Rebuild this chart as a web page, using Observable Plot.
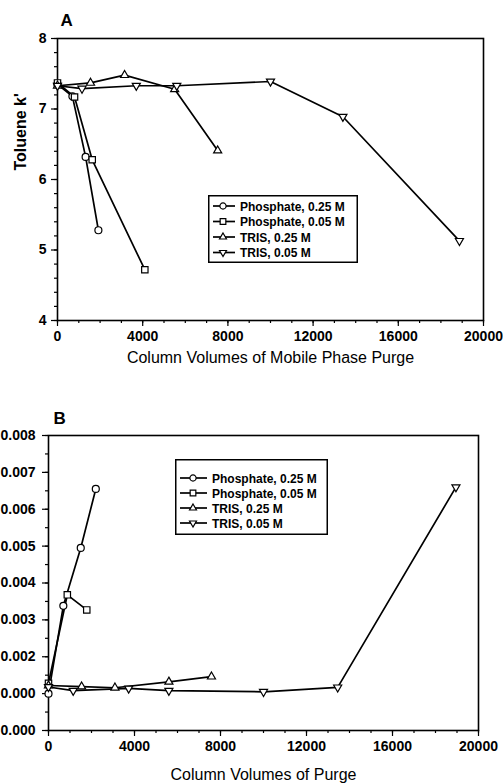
<!DOCTYPE html>
<html><head><meta charset="utf-8">
<script src="https://cdn.jsdelivr.net/npm/d3@7"></script>
<script src="https://cdn.jsdelivr.net/npm/@observablehq/plot@0.6"></script>
<style>
body{margin:0;background:#fff;}
#wrap{position:relative;width:503px;height:783px;overflow:hidden;background:#fff;font-family:"Liberation Sans",Arial,sans-serif;}
#wrap > svg{position:absolute;left:0;}
</style></head><body><div id="wrap"></div>
<script>
// ---------- data ----------
const seriesLabels = ["Phosphate, 0.25 M", "Phosphate, 0.05 M", "TRIS, 0.25 M", "TRIS, 0.05 M"];

// Panel A: Toluene k'
const aPhos25X = [0, 700, 1320, 1920];
const aPhos25Y = [7.35, 7.18, 6.32, 5.28];
const aPhos05X = [0, 800, 1630, 4100];
const aPhos05Y = [7.37, 7.17, 6.28, 4.72];
const aTris25X = [0, 1550, 3150, 5500, 7520];
const aTris25Y = [7.33, 7.37, 7.48, 7.28, 6.41];
const aTris05X = [0, 1150, 3700, 5600, 10000, 13400, 18870];
const aTris05Y = [7.33, 7.29, 7.33, 7.33, 7.39, 6.89, 5.13];

// Panel B
const bPhos25X = [0, 690, 1500, 2200];
const bPhos25Y = [0.00100, 0.00338, 0.00495, 0.00655];
const bPhos05X = [0, 875, 1780];
const bPhos05Y = [0.00128, 0.00368, 0.00327];
const bTris25X = [0, 1540, 3090, 5600, 7580];
const bTris25Y = [0.00122, 0.00119, 0.00116, 0.00132, 0.00146];
const bTris05X = [0, 1150, 3730, 5600, 10000, 13450, 18950];
const bTris05Y = [0.00118, 0.00108, 0.00114, 0.00108, 0.00105, 0.00117, 0.00660];

// ticks
const xTicks = [0, 4000, 8000, 12000, 16000, 20000];
const aYTicks = [4, 5, 6, 7, 8];
const bYTicks = [0, 0.001, 0.002, 0.003, 0.004, 0.005, 0.006, 0.007, 0.008];
const bYTickLabels = ["0.000", "0.000", "0.002", "0.003", "0.004", "0.005", "0.006", "0.007", "0.008"];

// ---------- helpers ----------
const downTriangle = {
  draw(ctx, size) {
    const s3 = Math.sqrt(3);
    const y = Math.sqrt(size / (s3 * 3));
    ctx.moveTo(0, 2 * y);
    ctx.lineTo(-s3 * y, -y);
    ctx.lineTo(s3 * y, -y);
    ctx.closePath();
  }
};
const symbols = [d3.symbolCircle, d3.symbolSquare, d3.symbolTriangle, downTriangle];
const radii = [3.5, 3.6, 3.0, 3.0];
const rows = (xs, ys) => xs.map((x, i) => ({x, y: ys[i]}));
const FONT = "Liberation Sans, Arial, Helvetica, sans-serif";

function seriesMarks(list) {
  const lines = list.map(d => Plot.line(d, {x: "x", y: "y", stroke: "black", strokeWidth: 1.7}));
  const dots = list.map((d, i) => Plot.dot(d, {x: "x", y: "y", symbol: symbols[i], r: radii[i], fill: "white", stroke: "black", strokeWidth: 1.2}));
  return [...lines, ...dots];
}

const wrap = document.getElementById("wrap");

// ---------- Panel A ----------
const aData = [rows(aPhos25X, aPhos25Y), rows(aPhos05X, aPhos05Y), rows(aTris25X, aTris25Y), rows(aTris05X, aTris05Y)];
const plotA = Plot.plot({
  width: 503, height: 375,
  marginTop: 38, marginBottom: 55, marginLeft: 57, marginRight: 20,
  style: {fontFamily: FONT, fontSize: "14px", fontWeight: "bold", color: "black", background: "white", overflow: "visible"},
  x: {domain: [0, 20000], axis: null},
  y: {domain: [4, 8], axis: null},
  marks: [
    Plot.axisX({ticks: d3.range(0, 20001, 1000), tickSize: 3, tickFormat: () => "", label: null, strokeWidth: 1.2}),
    Plot.axisX({ticks: xTicks, tickSize: 6, tickPadding: 5, tickFormat: d => String(d), label: null, strokeWidth: 1.2}),
    Plot.axisY({ticks: d3.range(4, 8.001, 0.2), tickSize: 3, tickFormat: () => "", label: null, strokeWidth: 1.2}),
    Plot.axisY({ticks: aYTicks, tickSize: 6, tickPadding: 5, tickFormat: d => String(d), label: null, strokeWidth: 1.2}),
    Plot.frame({stroke: "black", strokeWidth: 1.6}),
    ...seriesMarks(aData),
    Plot.text(["A"], {frameAnchor: "top-left", text: d => d, dx: 3, dy: -13, textAnchor: "start", lineAnchor: "bottom", fontSize: 17, fontWeight: "bold"}),
    Plot.text(["Toluene k'"], {frameAnchor: "left", text: d => d, rotate: -90, dx: -37, dy: -9, fontSize: 16, fontWeight: "bold"}),
    Plot.text(["Column Volumes of Mobile Phase Purge"], {frameAnchor: "bottom", text: d => d, dy: 42, lineAnchor: "bottom", fontSize: 16, fontWeight: "normal"})
  ]
});
plotA.style.top = "0px";
wrap.appendChild(plotA);

// ---------- Panel B ----------
const bData = [rows(bPhos25X, bPhos25Y), rows(bPhos05X, bPhos05Y), rows(bTris25X, bTris25Y), rows(bTris05X, bTris05Y)];
const plotB = Plot.plot({
  width: 503, height: 393,
  marginTop: 45, marginBottom: 53, marginLeft: 48, marginRight: 25,
  style: {fontFamily: FONT, fontSize: "14px", fontWeight: "bold", color: "black", background: "white", overflow: "visible"},
  x: {domain: [0, 20000], axis: null},
  y: {domain: [0, 0.008], axis: null},
  marks: [
    Plot.axisX({ticks: d3.range(0, 20001, 1000), tickSize: 3, tickFormat: () => "", label: null, strokeWidth: 1.2}),
    Plot.axisX({ticks: xTicks, tickSize: 6, tickPadding: 5, tickFormat: d => String(d), label: null, strokeWidth: 1.2}),
    Plot.axisY({ticks: d3.range(0, 0.00801, 0.0005), tickSize: 3, tickFormat: () => "", label: null, strokeWidth: 1.2}),
    Plot.axisY({ticks: bYTicks, tickSize: 6, tickPadding: 7, tickFormat: d => bYTickLabels[bYTicks.indexOf(d)], label: null, strokeWidth: 1.2}),
    Plot.frame({stroke: "black", strokeWidth: 1.6}),
    ...seriesMarks(bData),
    Plot.text(["B"], {frameAnchor: "top-left", text: d => d, dx: 5, dy: -12, textAnchor: "start", lineAnchor: "bottom", fontSize: 17, fontWeight: "bold"}),
    Plot.text(["Column Volumes of Purge"], {frameAnchor: "bottom", text: d => d, dy: 49, lineAnchor: "bottom", fontSize: 16, fontWeight: "normal"})
  ]
});
plotB.style.top = "390px";
wrap.appendChild(plotB);

// ---------- Legends ----------
function legend(left, top, w, h, row0, gap, x1, x2, xm, xt) {
  const svg = d3.select(wrap).append("svg")
    .attr("width", w).attr("height", h)
    .style("position", "absolute").style("left", left + "px").style("top", top + "px");
  svg.append("rect").attr("x", 0.75).attr("y", 0.75).attr("width", w - 1.5).attr("height", h - 1.5)
    .attr("fill", "white").attr("stroke", "black").attr("stroke-width", 1.5);
  seriesLabels.forEach((lab, i) => {
    const y = row0 + gap * i;
    svg.append("line").attr("x1", x1).attr("x2", x2).attr("y1", y).attr("y2", y)
      .attr("stroke", "black").attr("stroke-width", 1.7);
    svg.append("path").attr("d", d3.symbol(symbols[i], Math.PI * (radii[i] - 0.4) * (radii[i] - 0.4))())
      .attr("transform", `translate(${xm},${y})`)
      .attr("fill", "white").attr("stroke", "black").attr("stroke-width", 1.2);
    svg.append("text").attr("x", xt).attr("y", y + 4.5).text(lab)
      .attr("font-family", FONT).attr("font-size", 12).attr("font-weight", "bold");
  });
}
legend(208, 195, 150, 68, 11, 15.5, 5, 27, 15, 32);
legend(175, 459, 153, 76, 19, 15, 5, 32, 18, 37);
</script></body></html>
